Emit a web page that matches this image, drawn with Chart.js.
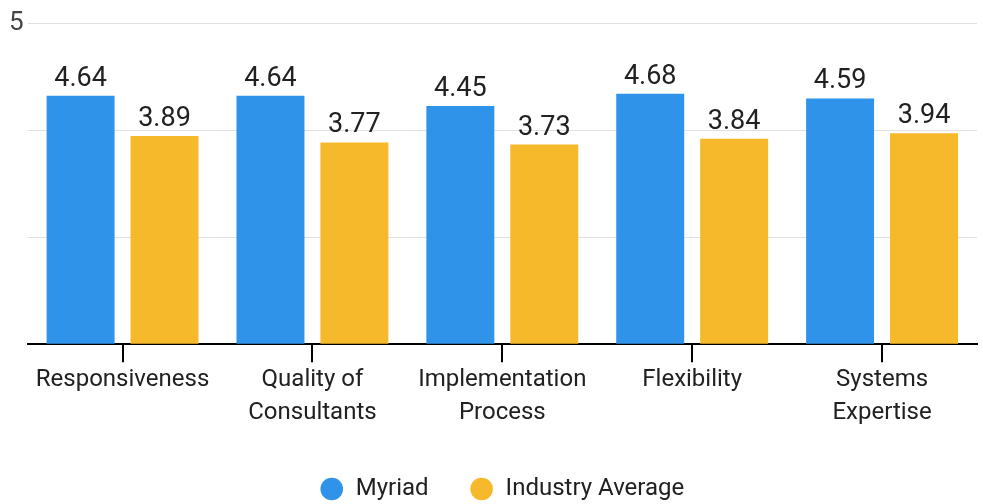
<!DOCTYPE html>
<html>

<head>
    <meta charset="utf-8">
    <title>Myriad vs Industry</title>
    <script src="https://cdn.jsdelivr.net/npm/chart.js"></script>
    <style>
        html, body { margin: 0; padding: 0; background: #fff; }
        #wrap { width: 983px; height: 504px; }
    </style>
</head>

<body>
    <div id="wrap"><canvas id="score-chart"></canvas></div>
    <script>
        const categories = [
            ['Responsiveness'],
            ['Quality of', 'Consultants'],
            ['Implementation', 'Process'],
            ['Flexibility'],
            ['Systems', 'Expertise']
        ];
        const myriad = [4.64, 4.64, 4.45, 4.68, 4.59];
        const industryAvg = [3.89, 3.77, 3.73, 3.84, 3.94];
        // only the top gridline carries a label in the original
        const yTickLabels = ['', '', '', '5'];

        const FONT = 'Roboto';

        // value labels above each bar
        const barValues = {
            id: 'barValues',
            afterDatasetsDraw(chart) {
                const ctx = chart.ctx;
                ctx.save();
                ctx.font = '27px ' + FONT;
                ctx.fillStyle = '#212121';
                ctx.textAlign = 'center';
                ctx.textBaseline = 'alphabetic';
                chart.data.datasets.forEach((ds, i) => {
                    chart.getDatasetMeta(i).data.forEach((bar, j) => {
                        ctx.fillText(ds.data[j].toFixed(2), bar.x, bar.y - 10);
                    });
                });
                ctx.restore();
            }
        };

        // the original legend sits a little right of centre
        const legendShift = {
            id: 'legendShift',
            afterLayout(chart) {
                chart.legend.left += 11;
                chart.legend.right += 11;
            }
        };

        new Chart(document.getElementById('score-chart'), {
            type: 'bar',
            data: {
                labels: categories,
                datasets: [
                    { label: 'Myriad', data: myriad, backgroundColor: '#2f94e9' },
                    { label: 'Industry Average', data: industryAvg, backgroundColor: '#f6b92c' }
                ]
            },
            options: {
                responsive: true,
                maintainAspectRatio: false,
                animation: false,
                categoryPercentage: 0.884,
                barPercentage: 0.81,
                layout: { padding: { left: 5, right: 6, top: 23, bottom: -7 } },
                plugins: {
                    tooltip: { enabled: false },
                    legend: {
                        position: 'bottom',
                        labels: {
                            usePointStyle: true,
                            pointStyle: 'circle',
                            boxWidth: 24,
                            boxHeight: 16,
                            padding: 41,
                            color: '#212121',
                            font: { family: FONT, size: 24 }
                        }
                    }
                },
                scales: {
                    x: {
                        afterFit: (scale) => { scale.height += 6; },
                        grid: {
                            offset: false,
                            drawOnChartArea: false,
                            drawTicks: true,
                            tickLength: 18,
                            color: '#000',
                            lineWidth: 2
                        },
                        border: { display: true, color: '#000', width: 2 },
                        ticks: {
                            color: '#212121',
                            padding: 1,
                            maxRotation: 0,
                            autoSkip: false,
                            font: { family: FONT, size: 24, lineHeight: 1.37 }
                        }
                    },
                    y: {
                        min: 0,
                        max: 6,
                        grid: { color: '#e0e0e0', lineWidth: 1, drawTicks: false },
                        border: { display: false },
                        ticks: {
                            stepSize: 2,
                            padding: 4,
                            color: '#444',
                            font: { family: FONT, size: 26 },
                            callback: (v, i) => yTickLabels[i]
                        }
                    }
                }
            },
            plugins: [barValues, legendShift]
        });
    </script>
</body>

</html>
